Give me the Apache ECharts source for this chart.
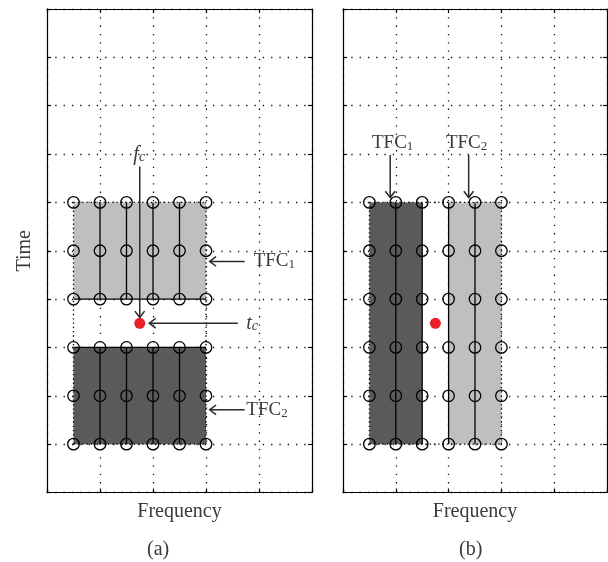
<!DOCTYPE html>
<html><head><meta charset="utf-8">
<script src="https://cdn.jsdelivr.net/npm/echarts@6/dist/echarts.min.js"></script>
<style>html,body{margin:0;padding:0;background:#fff}#c{width:608px;height:562px}</style>
</head><body><div id="c"></div>
<script>
const FONT = '"Liberation Serif", "DejaVu Serif", serif';
const TXT = '#3a3a3a';

// ---- data (axis units: frequency 0..5, time 0..10) ----
const xRange = [0, 5];
const yRange = [0, 10];
const circleCols = [0.5, 1, 1.5, 2, 2.5, 3];
const circleRowsA = [1, 2, 3, 4, 5, 6];
const circleRowsB = [1, 2, 3, 4, 5, 6];
const lightRectA = [0.5, 4, 3, 6];
const darkRectA = [0.5, 1, 3, 3];
const darkRectB = [0.5, 1, 1.5, 6];
const lightRectB = [2, 1, 3, 6];
const solidSegA = [[1,4,1,6],[1.5,4,1.5,6],[2,4,2,6],[2.5,4,2.5,6],[1,1,1,3],[1.5,1,1.5,3],[2,1,2,3],[2.5,1,2.5,3],[0.5,4,3,4],[0.5,3,3,3]];
const dottedSegA = [[0.5,1,0.5,6],[3,1,3,6],[0.5,6,3,6],[0.5,1,3,1]];
const solidSegB = [[1,1,1,6],[1.5,1,1.5,6],[2,1,2,6],[2.5,1,2.5,6]];
const dottedSegB = [[0.5,1,0.5,6],[3,1,3,6],[0.5,6,3,6],[0.5,1,3,1]];
const centerA = [1.75, 3.5];
const centerB = [1.75, 3.5];
const arrowsA = [[1.75,6.74,1.75,3.62],[3.6,3.5,1.93,3.5],[3.73,4.78,3.07,4.78],[3.73,1.71,3.07,1.71]];
const arrowsB = [[0.894,6.98,0.894,6.1],[2.38,6.98,2.38,6.1]];
const labelsA = [[1.74,6.99,'fc','center'],[3.76,3.5,'tc','left'],[3.9,4.78,'TFC1','left'],[3.76,1.71,'TFC2','left']];
const labelsB = [[0.94,7.23,'TFC1','center'],[2.34,7.23,'TFC2','center']];
const xName = 'Frequency';
const yName = 'Time';
const panelTags = ['(a)', '(b)'];

const RICH = {
  m: {fontFamily: FONT, fontSize: 19, color: TXT, lineHeight: 20},
  s: {fontFamily: FONT, fontSize: 13, color: TXT, lineHeight: 6, verticalAlign: 'bottom'},
  i: {fontFamily: FONT, fontSize: 20, fontStyle: 'italic', color: TXT, lineHeight: 20},
  is: {fontFamily: FONT, fontSize: 14, fontStyle: 'italic', color: TXT, lineHeight: 8, verticalAlign: 'bottom'}
};
function labelText(k) {
  if (k === 'fc') return '{i|f}{is|c}';
  if (k === 'tc') return '{i|t}{is|c}';
  return '{m|TFC}{s|' + k.slice(3) + '}';
}

const chart = echarts.init(document.getElementById('c'), null, {renderer: 'canvas'});

function xAx(grid, pos, main) {
  return {
    type: 'value', gridIndex: grid, position: pos, min: xRange[0], max: xRange[1], interval: 1,
    axisLine: {show: true, onZero: false, lineStyle: {color: '#000', width: 1.2}},
    axisTick: {show: true, inside: true, length: 4, lineStyle: {color: '#000', width: 1.2}},
    axisLabel: {show: false},
    splitLine: {show: main, lineStyle: {color: '#111', width: 1.3, type: [1.3, 7]}},
    name: main ? xName : '', nameLocation: 'middle', nameGap: 9,
    nameTextStyle: {fontFamily: FONT, fontSize: 20, color: TXT}
  };
}
function yAx(grid, pos, main, withName) {
  return {
    type: 'value', gridIndex: grid, position: pos, min: yRange[0], max: yRange[1], interval: 1,
    axisLine: {show: true, onZero: false, lineStyle: {color: '#000', width: 1.2}},
    axisTick: {show: true, inside: true, length: 4, lineStyle: {color: '#000', width: 1.2}},
    axisLabel: {show: false},
    splitLine: {show: main, lineStyle: {color: '#111', width: 1.3, type: [1.3, 7]}},
    name: withName ? yName : '', nameLocation: 'middle', nameGap: 12,
    nameTextStyle: {fontFamily: FONT, fontSize: 20, color: TXT}
  };
}

function rectSeries(xi, yi, rect, color) {
  return {
    type: 'custom', xAxisIndex: xi, yAxisIndex: yi, z: 1, silent: true,
    data: [rect],
    renderItem: function (params, api) {
      const p0 = api.coord([api.value(0), api.value(3)]);
      const p1 = api.coord([api.value(2), api.value(1)]);
      return {type: 'rect', shape: {x: p0[0], y: p0[1], width: p1[0] - p0[0], height: p1[1] - p0[1]},
        style: {fill: color}};
    }
  };
}
function segSeries(xi, yi, segs, dotted) {
  return {
    type: 'custom', xAxisIndex: xi, yAxisIndex: yi, z: dotted ? 2 : 3, silent: true,
    data: segs,
    renderItem: function (params, api) {
      const a = api.coord([api.value(0), api.value(1)]);
      const b = api.coord([api.value(2), api.value(3)]);
      return {type: 'line', shape: {x1: a[0], y1: a[1], x2: b[0], y2: b[1]},
        style: {stroke: '#000', lineWidth: 1.3, lineDash: dotted ? [1.3, 3] : null}};
    }
  };
}
function arrowSeries(xi, yi, arrs) {
  return {
    type: 'custom', xAxisIndex: xi, yAxisIndex: yi, z: 6, silent: true,
    data: arrs,
    renderItem: function (params, api) {
      const a = api.coord([api.value(0), api.value(1)]);
      const b = api.coord([api.value(2), api.value(3)]);
      const ang = Math.atan2(b[1] - a[1], b[0] - a[0]);
      const L = 8, h = 0.65;
      const l1 = [b[0] - L * Math.cos(ang - h), b[1] - L * Math.sin(ang - h)];
      const l2 = [b[0] - L * Math.cos(ang + h), b[1] - L * Math.sin(ang + h)];
      const st = {stroke: '#2a2a2a', lineWidth: 1.5, fill: null};
      return {type: 'group', children: [
        {type: 'line', shape: {x1: a[0], y1: a[1], x2: b[0], y2: b[1]}, style: st},
        {type: 'polyline', shape: {points: [l1, b, l2]}, style: st}
      ]};
    }
  };
}
function labelSeries(xi, yi, labs) {
  return {
    type: 'custom', xAxisIndex: xi, yAxisIndex: yi, z: 7, silent: true,
    data: labs.map(l => [l[0], l[1], l[2], l[3]]),
    dimensions: ['x', 'y', {name: 'k', type: 'ordinal'}, {name: 'al', type: 'ordinal'}],
    renderItem: function (params, api) {
      const d = labs[params.dataIndex];
      const p = api.coord([d[0], d[1]]);
      return {type: 'text', x: p[0], y: p[1],
        style: {text: labelText(d[2]), rich: RICH, align: d[3], verticalAlign: 'middle',
          fontFamily: FONT, fontSize: 19, fill: TXT}};
    }
  };
}
function circles(rows) {
  const out = [];
  rows.forEach(r => circleCols.forEach(c => out.push([c, r])));
  return out;
}
function circleSeries(xi, yi, rows) {
  return {
    type: 'scatter', xAxisIndex: xi, yAxisIndex: yi, z: 4, silent: true,
    symbol: 'circle', symbolSize: 11.5, data: circles(rows),
    itemStyle: {color: 'rgba(0,0,0,0)', borderColor: '#000', borderWidth: 1.3, opacity: 1}
  };
}
function dotSeries(xi, yi, pt) {
  return {
    type: 'scatter', xAxisIndex: xi, yAxisIndex: yi, z: 5, silent: true,
    symbol: 'circle', symbolSize: 11, data: [pt],
    itemStyle: {color: '#e8202a', opacity: 1}
  };
}

const LIGHT = '#bfbfbf', DARK = '#5a5a5a';

chart.setOption({
  animation: false,
  backgroundColor: '#fff',
  grid: [
    {left: 47, top: 9, width: 265, height: 483.5, show: false},
    {left: 343, top: 9, width: 264, height: 483.5, show: false}
  ],
  xAxis: [xAx(0, 'bottom', true), xAx(0, 'top', false), xAx(1, 'bottom', true), xAx(1, 'top', false)],
  yAxis: [yAx(0, 'left', true, true), yAx(0, 'right', false, false), yAx(1, 'left', true, false), yAx(1, 'right', false, false)],
  graphic: [
    {type: 'text', left: 147, top: 540, style: {text: panelTags[0], font: '20px ' + FONT, fill: TXT}},
    {type: 'text', left: 459, top: 540, style: {text: panelTags[1], font: '20px ' + FONT, fill: TXT}}
  ],
  series: [
    rectSeries(0, 0, lightRectA, LIGHT),
    rectSeries(0, 0, darkRectA, DARK),
    segSeries(0, 0, dottedSegA, true),
    segSeries(0, 0, solidSegA, false),
    circleSeries(0, 0, circleRowsA),
    dotSeries(0, 0, centerA),
    arrowSeries(0, 0, arrowsA),
    labelSeries(0, 0, labelsA),

    rectSeries(2, 2, darkRectB, DARK),
    rectSeries(2, 2, lightRectB, LIGHT),
    segSeries(2, 2, dottedSegB, true),
    segSeries(2, 2, solidSegB, false),
    circleSeries(2, 2, circleRowsB),
    dotSeries(2, 2, centerB),
    arrowSeries(2, 2, arrowsB),
    labelSeries(2, 2, labelsB)
  ]
});
</script>
</body></html>
